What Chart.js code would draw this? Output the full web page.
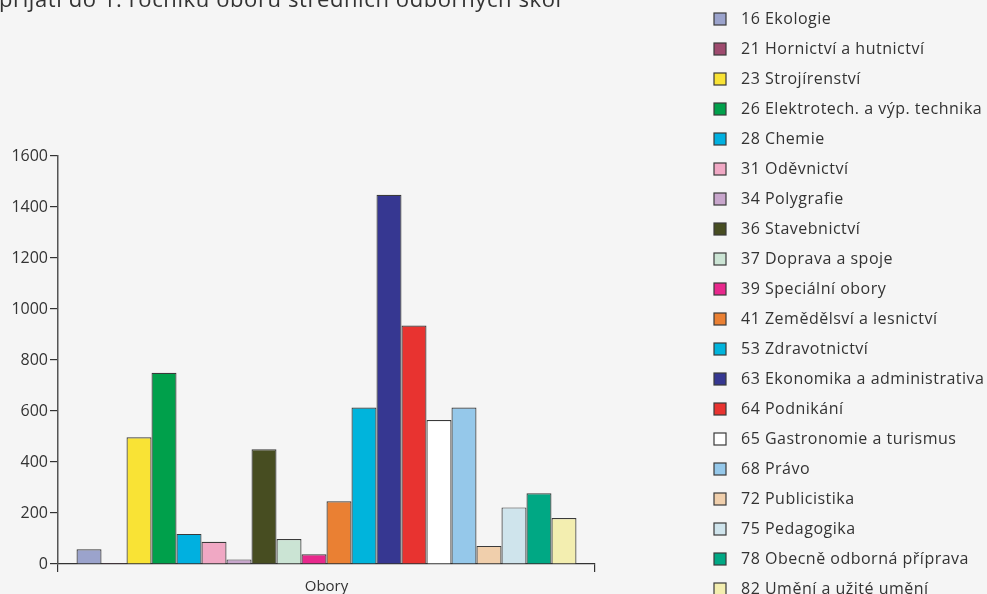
<!DOCTYPE html>
<html>
<head>
<meta charset="utf-8">
<script src="https://cdn.jsdelivr.net/npm/chart.js@4"></script>
<style>
  html, body { margin: 0; padding: 0; background: #f5f5f5; overflow: hidden; }
  #wrap { position: relative; width: 987px; height: 594px; }
</style>
</head>
<body>
<div id="wrap"><canvas id="c" width="987" height="594"></canvas></div>
<script>
const titleText = 'přijatí do 1. ročníku oborů středních odborných škol';
const categories = ['Obory'];
const seriesLabels = [
  '16 Ekologie', '21 Hornictví a hutnictví', '23 Strojírenství', '26 Elektrotech. a výp. technika',
  '28 Chemie', '31 Oděvnictví', '34 Polygrafie', '36 Stavebnictví', '37 Doprava a spoje',
  '39 Speciální obory', '41 Zemědělsví a lesnictví', '53 Zdravotnictví', '63 Ekonomika a administrativa',
  '64 Podnikání', '65 Gastronomie a turismus', '68 Právo', '72 Publicistika', '75 Pedagogika',
  '78 Obecně odborná příprava', '82 Umění a užité umění'
];
const seriesValues = [58, 4, 497, 750, 118, 87, 18, 450, 98, 38, 246, 614, 1448, 935, 565, 614, 71, 222, 277, 180];
const seriesColors = [
  '#9ba3cc', '#9e4a6e', '#f9e335', '#00a04b', '#00b0e0', '#f0a8c4', '#c8a6cc', '#474d21',
  '#cbe4d4', '#e8288c', '#ea8033', '#00b4dc', '#363791', '#e83330', '#ffffff', '#95c8ea',
  '#f0cfac', '#cfe4ec', '#00a884', '#f3eeb0'
];
const yMin = 0, yMax = 1600, yStep = 200;

const FONT = '"Open Sans", "Noto Sans", sans-serif';
const TEXT = '#333333';

const datasets = seriesLabels.map((lab, i) => ({
  label: lab,
  data: [seriesValues[i]],
  backgroundColor: seriesColors[i],
  borderColor: '#3a3a3a',
  borderWidth: 1.2,
  categoryPercentage: 0.931,
  barPercentage: 1.0
}));

const bgPlugin = {
  id: 'bg',
  beforeDraw(chart) {
    const ctx = chart.ctx;
    ctx.save();
    ctx.fillStyle = '#f5f5f5';
    ctx.fillRect(0, 0, chart.width, chart.height);
    ctx.restore();
  }
};

const titlePlugin = {
  id: 'cutTitle',
  afterDraw(chart) {
    const ctx = chart.ctx;
    ctx.save();
    ctx.font = '22px ' + FONT;
    if ('letterSpacing' in ctx) ctx.letterSpacing = '0.6px';
    ctx.fillStyle = TEXT;
    ctx.textBaseline = 'alphabetic';
    ctx.textAlign = 'left';
    ctx.fillText(titleText, -1, 7);
    ctx.restore();
  }
};

const legendPlugin = {
  id: 'sideLegend',
  afterDraw(chart) {
    const ctx = chart.ctx;
    ctx.save();
    ctx.font = '16px ' + FONT;
    if ('letterSpacing' in ctx) ctx.letterSpacing = '0.5px';
    ctx.textBaseline = 'middle';
    ctx.textAlign = 'left';
    chart.data.datasets.forEach((ds, i) => {
      const cy = 19 + i * 30;
      ctx.fillStyle = ds.backgroundColor;
      ctx.fillRect(714, cy - 6, 12, 12);
      ctx.strokeStyle = '#3a3a3a';
      ctx.lineWidth = 1.2;
      ctx.strokeRect(714, cy - 6, 12, 12);
      ctx.fillStyle = TEXT;
      ctx.fillText(ds.label, 741, cy);
    });
    ctx.restore();
  }
};

new Chart(document.getElementById('c'), {
  type: 'bar',
  data: { labels: categories, datasets },
  options: {
    responsive: false,
    animation: false,
    layout: { padding: { top: 156, right: 392, bottom: 0, left: 0 } },
    plugins: {
      legend: { display: false },
      title: { display: false },
      tooltip: { enabled: false }
    },
    scales: {
      x: {
        offset: true,
        grid: {
          display: true, offset: true, drawOnChartArea: false,
          drawTicks: true, tickLength: 8, color: '#333', lineWidth: 1.2
        },
        border: { display: true, color: '#333', width: 1.2 },
        ticks: { color: TEXT, font: { family: FONT, size: 15 }, padding: 6 },
        afterFit(s) { s.height = 30; }
      },
      y: {
        min: yMin, max: yMax,
        ticks: {
          stepSize: yStep, color: TEXT, font: { family: FONT, size: 16 }, padding: 2,
          callback: (v) => String(v)
        },
        grid: { drawOnChartArea: false, drawTicks: true, tickLength: 8, color: '#333', lineWidth: 1.2 },
        border: { display: true, color: '#555', width: 1.5 },
        afterFit(s) { s.width = 58; }
      }
    }
  },
  plugins: [bgPlugin, titlePlugin, legendPlugin]
});
</script>
</body>
</html>
